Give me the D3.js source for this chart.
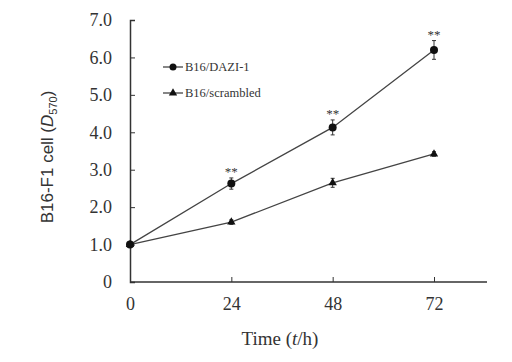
<!DOCTYPE html>
<html>
<head>
<meta charset="utf-8">
<script src="https://cdn.jsdelivr.net/npm/d3@7"></script>
<style>
body { margin: 0; background: #fff; }
text { font-family: "Liberation Serif", "Times New Roman", serif; fill: #333; }
</style>
</head>
<body>
<div id="chart"></div>
<script>
const times = [0, 24, 48, 72];
const dazi = [1.0, 2.63, 4.13, 6.2];
const daziErr = [0.05, 0.15, 0.2, 0.25];
const scrambled = [1.0, 1.6, 2.65, 3.42];
const scrambledErr = [0.05, 0.06, 0.12, 0.06];
const yTicks = [0, 1, 2, 3, 4, 5, 6, 7];
const seriesNames = ["B16/DAZI-1", "B16/scrambled"];

let width = 512, height = 362;
let svg = d3.select("#chart").append("svg")
    .attr("width", width)
    .attr("height", height);

let x = d3.scaleLinear().domain([0, 72]).range([130, 434]);
let y = d3.scaleLinear().domain([0, 7]).range([282, 20]);

// axes with inward ticks
let yAxis = svg.append("g")
    .attr("transform", `translate(${x(0)},0)`)
    .call(d3.axisLeft(y).tickValues(yTicks).tickSize(-5).tickPadding(18)
        .tickFormat(d => d === 0 ? "0" : d3.format(".1f")(d)));
yAxis.select(".domain").attr("stroke", "#333").attr("stroke-width", 1.5);
yAxis.selectAll("line").attr("stroke", "#333");
yAxis.selectAll("text").style("font-size", "18px");

let xAxis = svg.append("g")
    .attr("transform", `translate(0,${y(0)})`)
    .call(d3.axisBottom(x).tickValues(times).tickSize(-5).tickPadding(15));
xAxis.select(".domain").remove();
xAxis.append("line")
    .attr("x1", x(0)).attr("x2", 487)
    .attr("stroke", "#333").attr("stroke-width", 1.5);
xAxis.selectAll(".tick line").attr("stroke", "#333");
xAxis.selectAll("text").style("font-size", "18px");

let line = d3.line()
    .x((d, i) => x(times[i]))
    .y(d => y(d));

[scrambled, dazi].forEach(function(vals) {
    svg.append("path")
        .datum(vals)
        .attr("fill", "none")
        .attr("stroke", "#444")
        .attr("stroke-width", 1.3)
        .attr("d", line);
});

// error bars
function errBars(vals, errs) {
    let g = svg.append("g");
    vals.forEach(function(v, i) {
        g.append("line")
            .attr("x1", x(times[i])).attr("x2", x(times[i]))
            .attr("y1", y(v + errs[i])).attr("y2", y(v - errs[i]))
            .attr("stroke", "#333");
        [v + errs[i], v - errs[i]].forEach(function(e) {
            g.append("line")
                .attr("x1", x(times[i]) - 2).attr("x2", x(times[i]) + 2)
                .attr("y1", y(e)).attr("y2", y(e))
                .attr("stroke", "#333");
        });
    });
}
errBars(dazi, daziErr);
errBars(scrambled, scrambledErr);

svg.append("g").selectAll("circle").data(dazi).enter()
    .append("circle")
    .attr("cx", (d, i) => x(times[i]))
    .attr("cy", d => y(d))
    .attr("r", 4)
    .attr("fill", "#111");

let tri = d3.symbol().type(d3.symbolTriangle).size(30);
svg.append("g").selectAll("path").data(scrambled).enter()
    .append("path")
    .attr("d", tri)
    .attr("transform", (d, i) => `translate(${x(times[i])},${y(d)})`)
    .attr("fill", "#111");

// significance marks
svg.append("g").selectAll("text").data(dazi.slice(1)).enter()
    .append("text")
    .attr("x", (d, i) => x(times[i + 1]))
    .attr("y", (d, i) => y(d + daziErr[i + 1]) - 2)
    .attr("text-anchor", "middle")
    .style("font-size", "13px")
    .text("**");

// legend
let legend = svg.append("g");
seriesNames.forEach(function(name, i) {
    let ly = 67 + i * 26;
    legend.append("line")
        .attr("x1", 163).attr("x2", 183)
        .attr("y1", ly).attr("y2", ly)
        .attr("stroke", "#444").attr("stroke-width", 1.3);
    if (i === 0) {
        legend.append("circle").attr("cx", 173).attr("cy", ly).attr("r", 3.5).attr("fill", "#111");
    } else {
        legend.append("path").attr("d", tri).attr("transform", `translate(173,${ly})`).attr("fill", "#111");
    }
    legend.append("text")
        .attr("x", 185).attr("y", ly + 4)
        .style("font-size", "12.5px")
        .text(name);
});

// axis titles
let yt = svg.append("text")
    .attr("transform", `translate(53,157) rotate(-90)`)
    .attr("text-anchor", "middle")
    .style("font-family", "'Liberation Sans', Arial, sans-serif")
    .style("font-size", "17px");
yt.append("tspan").text("B16-F1 cell (");
yt.append("tspan").style("font-style", "italic").text("D");
yt.append("tspan").attr("dy", 4).style("font-size", "11px").text("570");
yt.append("tspan").attr("dy", -4).text(")");

let xt = svg.append("text")
    .attr("x", 280).attr("y", 345)
    .attr("text-anchor", "middle")
    .style("font-size", "19px");
xt.append("tspan").text("Time (");
xt.append("tspan").style("font-style", "italic").text("t");
xt.append("tspan").text("/h)");
</script>
</body>
</html>
